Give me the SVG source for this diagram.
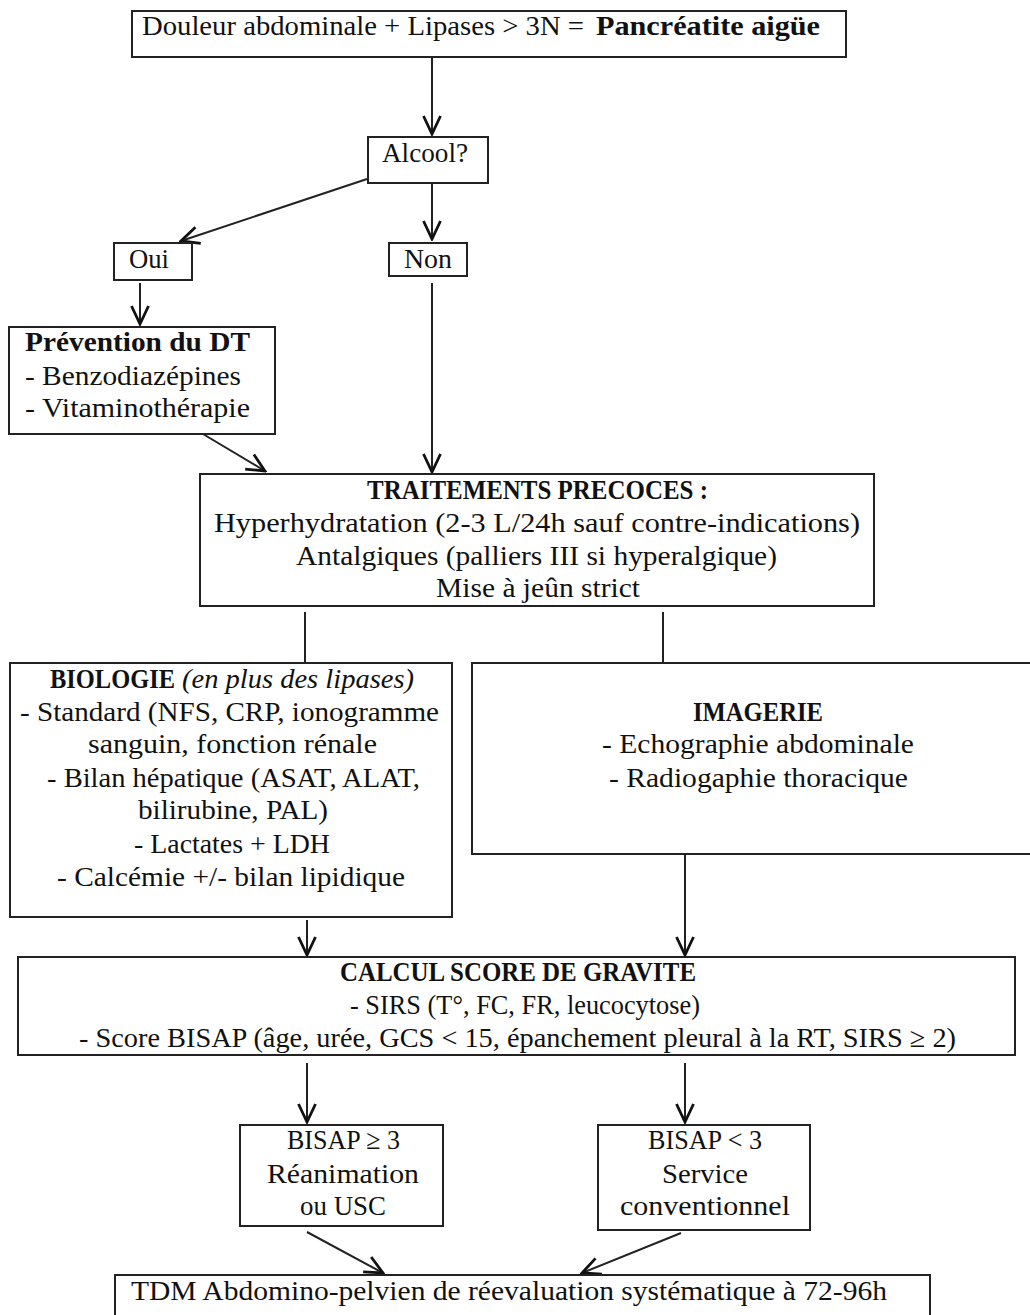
<svg xmlns="http://www.w3.org/2000/svg" width="1030" height="1315" viewBox="0 0 1030 1315">
<style>
.box{fill:#fff;stroke:#222;stroke-width:2}
.t{font-family:"Liberation Serif","Times New Roman",serif;font-size:28px;fill:#111}
.b{font-weight:bold}
.i{font-style:italic}
.c{stroke:#222;stroke-width:2;fill:none}
.a{marker-end:url(#arr)}
</style>
<defs>
<marker id="arr" markerUnits="userSpaceOnUse" markerWidth="22" markerHeight="22" viewBox="0 0 22 22" refX="20" refY="11" orient="auto">
<path d="M2,2.5 L20,11 L2,19.5" fill="none" stroke="#111" stroke-width="2.8"/>
</marker>
</defs>
<rect width="1030" height="1315" fill="#fff"/>
<g id="connectors">
<line class="c a" x1="432" y1="57" x2="432" y2="134"/>
<line class="c a" x1="367" y1="179" x2="181" y2="241"/>
<line class="c a" x1="432" y1="183" x2="432" y2="239"/>
<line class="c a" x1="140" y1="283" x2="140" y2="324"/>
<line class="c" x1="432" y1="283" x2="432" y2="440"/>
<line class="c a" x1="432" y1="440" x2="432" y2="472"/>
<line class="c a" x1="203" y1="434" x2="265" y2="471"/>
<line class="c" x1="305" y1="612" x2="305" y2="663"/>
<line class="c" x1="663" y1="612" x2="663" y2="663"/>
<line class="c a" x1="307" y1="920" x2="307" y2="955"/>
<line class="c a" x1="685" y1="855" x2="685" y2="955"/>
<line class="c a" x1="307" y1="1063" x2="307" y2="1122"/>
<line class="c a" x1="685" y1="1063" x2="685" y2="1122"/>
<line class="c a" x1="307" y1="1232" x2="383" y2="1273"/>
<line class="c a" x1="681" y1="1233" x2="582" y2="1273"/>
</g>
<g id="n-start">
<rect class="box" x="132" y="11" width="714" height="46"/>
<text class="t" x="142" y="35" textLength="442" lengthAdjust="spacingAndGlyphs">Douleur abdominale + Lipases &gt; 3N =</text>
<text class="t b" x="596" y="35" textLength="224" lengthAdjust="spacingAndGlyphs">Pancréatite aigüe</text>
</g>
<g id="n-alcool">
<rect class="box" x="368" y="137" width="120" height="46"/>
<text class="t" x="382" y="162" textLength="86" lengthAdjust="spacingAndGlyphs">Alcool?</text>
</g>
<g id="n-oui">
<rect class="box" x="114" y="243" width="78" height="37"/>
<text class="t" x="129" y="268" textLength="40" lengthAdjust="spacingAndGlyphs">Oui</text>
</g>
<g id="n-non">
<rect class="box" x="389" y="243" width="78" height="33"/>
<text class="t" x="404" y="268" textLength="48" lengthAdjust="spacingAndGlyphs">Non</text>
</g>
<g id="n-prevention">
<rect class="box" x="9" y="327" width="266" height="107"/>
<text class="t b" x="25" y="351" textLength="225" lengthAdjust="spacingAndGlyphs">Prévention du DT</text>
<text class="t" x="25" y="385" textLength="216" lengthAdjust="spacingAndGlyphs">- Benzodiazépines</text>
<text class="t" x="25" y="417" textLength="225" lengthAdjust="spacingAndGlyphs">- Vitaminothérapie</text>
</g>
<g id="n-traitements">
<rect class="box" x="200" y="474" width="674" height="132"/>
<text class="t b" x="367" y="499" textLength="341" lengthAdjust="spacingAndGlyphs">TRAITEMENTS PRECOCES :</text>
<text class="t" x="214" y="532" textLength="646" lengthAdjust="spacingAndGlyphs">Hyperhydratation (2-3 L/24h sauf contre-indications)</text>
<text class="t" x="296" y="565" textLength="481" lengthAdjust="spacingAndGlyphs">Antalgiques (palliers III si hyperalgique)</text>
<text class="t" x="436" y="597" textLength="204" lengthAdjust="spacingAndGlyphs">Mise à jeûn strict</text>
</g>
<g id="n-biologie">
<rect class="box" x="10" y="663" width="442" height="254"/>
<text class="t b" x="50" y="688" textLength="125" lengthAdjust="spacingAndGlyphs">BIOLOGIE</text>
<text class="t i" x="182" y="688" textLength="232" lengthAdjust="spacingAndGlyphs">(en plus des lipases)</text>
<text class="t" x="20" y="721" textLength="419" lengthAdjust="spacingAndGlyphs">- Standard (NFS, CRP, ionogramme</text>
<text class="t" x="88" y="753" textLength="289" lengthAdjust="spacingAndGlyphs">sanguin, fonction rénale</text>
<text class="t" x="47" y="787" textLength="373" lengthAdjust="spacingAndGlyphs">- Bilan hépatique (ASAT, ALAT,</text>
<text class="t" x="138" y="819" textLength="190" lengthAdjust="spacingAndGlyphs">bilirubine, PAL)</text>
<text class="t" x="134" y="853" textLength="196" lengthAdjust="spacingAndGlyphs">- Lactates + LDH</text>
<text class="t" x="57" y="886" textLength="348" lengthAdjust="spacingAndGlyphs">- Calcémie +/- bilan lipidique</text>
</g>
<g id="n-imagerie">
<rect class="box" x="472" y="663" width="580" height="191"/>
<text class="t b" x="693" y="721" textLength="130" lengthAdjust="spacingAndGlyphs">IMAGERIE</text>
<text class="t" x="602" y="753" textLength="312" lengthAdjust="spacingAndGlyphs">- Echographie abdominale</text>
<text class="t" x="609" y="787" textLength="299" lengthAdjust="spacingAndGlyphs">- Radiogaphie thoracique</text>
</g>
<g id="n-calcul">
<rect class="box" x="18" y="957" width="997" height="98"/>
<text class="t b" x="340" y="981" textLength="356" lengthAdjust="spacingAndGlyphs">CALCUL SCORE DE GRAVITE</text>
<text class="t" x="350" y="1014" textLength="350" lengthAdjust="spacingAndGlyphs">- SIRS (T°, FC, FR, leucocytose)</text>
<text class="t" x="79" y="1047" textLength="877" lengthAdjust="spacingAndGlyphs">- Score BISAP (âge, urée, GCS &lt; 15, épanchement pleural à la RT, SIRS ≥ 2)</text>
</g>
<g id="n-bisap-high">
<rect class="box" x="240" y="1125" width="203" height="101"/>
<text class="t" x="287" y="1149" textLength="113" lengthAdjust="spacingAndGlyphs">BISAP ≥ 3</text>
<text class="t" x="267" y="1183" textLength="152" lengthAdjust="spacingAndGlyphs">Réanimation</text>
<text class="t" x="300" y="1215" textLength="86" lengthAdjust="spacingAndGlyphs">ou USC</text>
</g>
<g id="n-bisap-low">
<rect class="box" x="598" y="1125" width="212" height="105"/>
<text class="t" x="648" y="1149" textLength="114" lengthAdjust="spacingAndGlyphs">BISAP &lt; 3</text>
<text class="t" x="662" y="1183" textLength="86" lengthAdjust="spacingAndGlyphs">Service</text>
<text class="t" x="620" y="1215" textLength="170" lengthAdjust="spacingAndGlyphs">conventionnel</text>
</g>
<g id="n-tdm">
<rect class="box" x="115" y="1275" width="815" height="60"/>
<text class="t" x="131" y="1300" textLength="756" lengthAdjust="spacingAndGlyphs">TDM Abdomino-pelvien de réevaluation systématique à 72-96h</text>
</g>
</svg>
